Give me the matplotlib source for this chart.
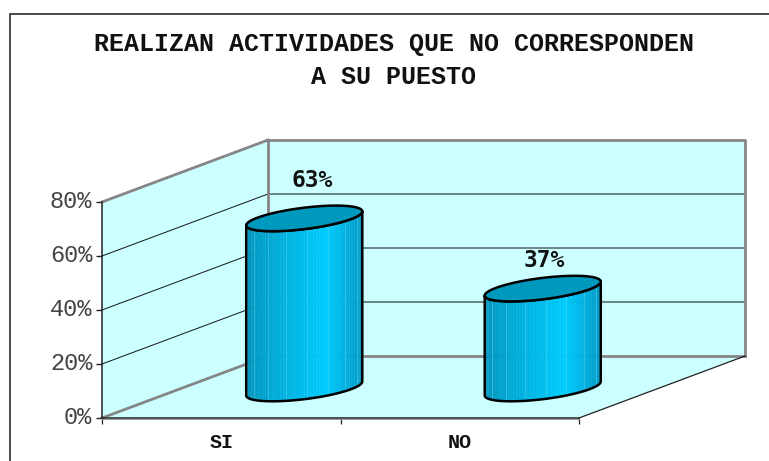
import numpy as np
import matplotlib
matplotlib.use("Agg")
import matplotlib.pyplot as plt
from matplotlib.lines import Line2D
from matplotlib.patches import Polygon
from matplotlib.colors import LinearSegmentedColormap
from matplotlib.transforms import ScaledTranslation

# ---- data ----
title_text = "REALIZAN ACTIVIDADES QUE NO CORRESPONDEN\nA SU PUESTO"
categories = ["SI", "NO"]
values = [63, 37]
value_labels = ["63%", "37%"]
y_ticks = [0, 20, 40, 60, 80]

# ---- layout / style ----
W, H = 769, 461
PX_X = 238.5          # pixels per category
PX_Y = 2.7            # pixels per percent
DEPTH_X = 166 / PX_X
DEPTH_Y = 62 / PX_Y
BASE_X = 83 / PX_X
BASE_Y = 29.5 / PX_Y
A = 48.6 / PX_X
B = 31.7 / PX_X
C = 12.8 / PX_Y
WALL = "#CCFFFF"
GRAY = "#868686"
LABEL_OFFSETS = [(8, -38), (1, -28)]  # px from top centre of the cylinder

fig = plt.figure(figsize=(W / 100, H / 100), dpi=100, facecolor="white")
ax = fig.add_axes([102 / W, (H - 418) / H, (579 - 102) / W, (418 - 202) / H])
ax.set_xlim(0, 2)
ax.set_ylim(0, 80)
ax.patch.set_visible(False)
for s in ("top", "right"):
    ax.spines[s].set_visible(False)
for s in ("left", "bottom"):
    ax.spines[s].set_color("#222222")
    ax.spines[s].set_linewidth(1.1)
    ax.spines[s].set_zorder(6)

ymax = y_ticks[-1]
dx, dy = DEPTH_X, DEPTH_Y
# walls and floor
ax.add_patch(Polygon([(dx, dy), (2 + dx, dy), (2 + dx, ymax + dy), (dx, ymax + dy)],
                     fc=WALL, ec="none", clip_on=False, zorder=1))
ax.add_patch(Polygon([(0, 0), (dx, dy), (dx, ymax + dy), (0, ymax)],
                     fc=WALL, ec="none", clip_on=False, zorder=1))
ax.add_patch(Polygon([(0, 0), (2, 0), (2 + dx, dy), (dx, dy)],
                     fc=WALL, ec="none", clip_on=False, zorder=1))
# gridlines
for v in y_ticks[1:-1]:
    ax.plot([dx, 2 + dx], [v + dy, v + dy], color="#4F6464", lw=1.1, clip_on=False, zorder=2)
    ax.plot([0, dx], [v, v + dy], color="#111111", lw=0.7, clip_on=False, zorder=2)
# wall edges
edge = dict(color=GRAY, lw=2.0, clip_on=False, zorder=3, solid_capstyle="projecting")
ax.plot([dx, 2 + dx, 2 + dx], [ymax + dy, ymax + dy, dy], **edge)
ax.plot([dx, 2 + dx], [dy, dy], **edge)
ax.plot([dx, dx], [dy, ymax + dy], **edge)
ax.plot([0, dx], [ymax, ymax + dy], color=GRAY, lw=2.0, clip_on=False, zorder=3)
ax.plot([0, dx], [0, dy], color=GRAY, lw=2.0, clip_on=False, zorder=3)
ax.plot([2, 2 + dx], [0, dy], color="#222222", lw=0.9, clip_on=False, zorder=3)
ax.plot([0, 2], [-0.55, -0.55], color="#999999", lw=0.7, clip_on=False, zorder=3)

# cylinders
cmap = LinearSegmentedColormap.from_list(
    "cyl", [(0, "#0094BC"), (0.22, "#00AAD6"), (0.68, "#00CCFF"), (1, "#0098C4")])
t_left = np.arctan2(-B, -A)
ts = np.linspace(t_left, t_left + np.pi, 61)
full = np.linspace(0, 2 * np.pi, 181)


def ell(cx, cy, t):
    return cx + A * np.cos(t) + B * np.sin(t), cy + C * np.sin(t)


for i, val in enumerate(values):
    cx = i + 0.5 + BASE_X
    cy = BASE_Y
    xb_s, yb_s = ell(cx, cy, ts)
    xt_s, yt_s = ell(cx, cy + val, ts)
    n = len(xb_s)
    x_norm = (xb_s - xb_s.min()) / (xb_s.max() - xb_s.min())
    for k in range(n - 1):
        col = cmap(x_norm[k])
        ax.add_patch(Polygon([(xb_s[k], yb_s[k]), (xb_s[k + 1], yb_s[k + 1]),
                              (xt_s[k + 1], yt_s[k + 1]), (xt_s[k], yt_s[k])],
                             fc=col, ec=col, lw=0.3, clip_on=False, zorder=4))
        if k % 7 == 3:
            ax.plot([xb_s[k], xt_s[k]], [yb_s[k], yt_s[k]], color="#66D8F0",
                    lw=0.5, alpha=0.6, clip_on=False, zorder=4.1)
    # outline of body
    outline = np.vstack([np.column_stack([xb_s, yb_s]),
                         np.column_stack([xt_s[::-1], yt_s[::-1]])])
    ax.add_patch(Polygon(outline, closed=True, fc="none", ec="black", lw=1.8,
                         clip_on=False, zorder=4.5, joinstyle="round"))
    ex, ey = ell(cx, cy + val, full)
    ax.add_patch(Polygon(np.column_stack([ex, ey]), closed=True, fc="#0099BE", ec="black",
                         lw=1.8, clip_on=False, zorder=5))
    ax.annotate(value_labels[i], xy=(cx, cy + val),
                xytext=(LABEL_OFFSETS[i][0] * 0.72, -LABEL_OFFSETS[i][1] * 0.72),
                textcoords="offset points", ha="center", va="center",
                fontsize=16.5, fontweight="bold", family="DejaVu Sans Mono",
                color="#111111", zorder=7, annotation_clip=False)

# axes ticks and labels
ax.set_yticks(y_ticks)
ax.set_yticklabels([f"{v}%" for v in y_ticks], family="Liberation Mono", fontsize=17,
                   color="#444444")
ax.tick_params(axis="y", length=4, width=1, color="#222222", pad=3)
shift = ScaledTranslation(0, 2 / 72 * 0.72 * 1.39, fig.dpi_scale_trans)
for lab in ax.get_yticklabels():
    lab.set_transform(lab.get_transform() + shift)
ax.set_xticks([0, 1, 2])
ax.set_xticklabels(["", "", ""])
ax.tick_params(axis="x", length=4, width=0.9, color="#222222")
ax.set_xticks([0.5, 1.5], minor=True)
ax.set_xticklabels(categories, minor=True, family="Liberation Mono", fontweight="bold",
                   fontsize=14.4, color="#111111")
ax.tick_params(axis="x", which="minor", length=0, pad=11)

# title
fig.text(394 / W, 1 - 60.5 / H, title_text, ha="center", va="center", family="Liberation Mono",
         fontweight="bold", fontsize=18, color="#111111", linespacing=1.45)

# chart frame (left and top only reach the visible image area)
fig.add_artist(Line2D([9.5 / W, 9.5 / W, 1], [0, 1 - 14 / H, 1 - 14 / H],
                      color="#3A3A3A", lw=1.3, solid_joinstyle="miter"))

fig.savefig("out.png", dpi=100, facecolor="white")
